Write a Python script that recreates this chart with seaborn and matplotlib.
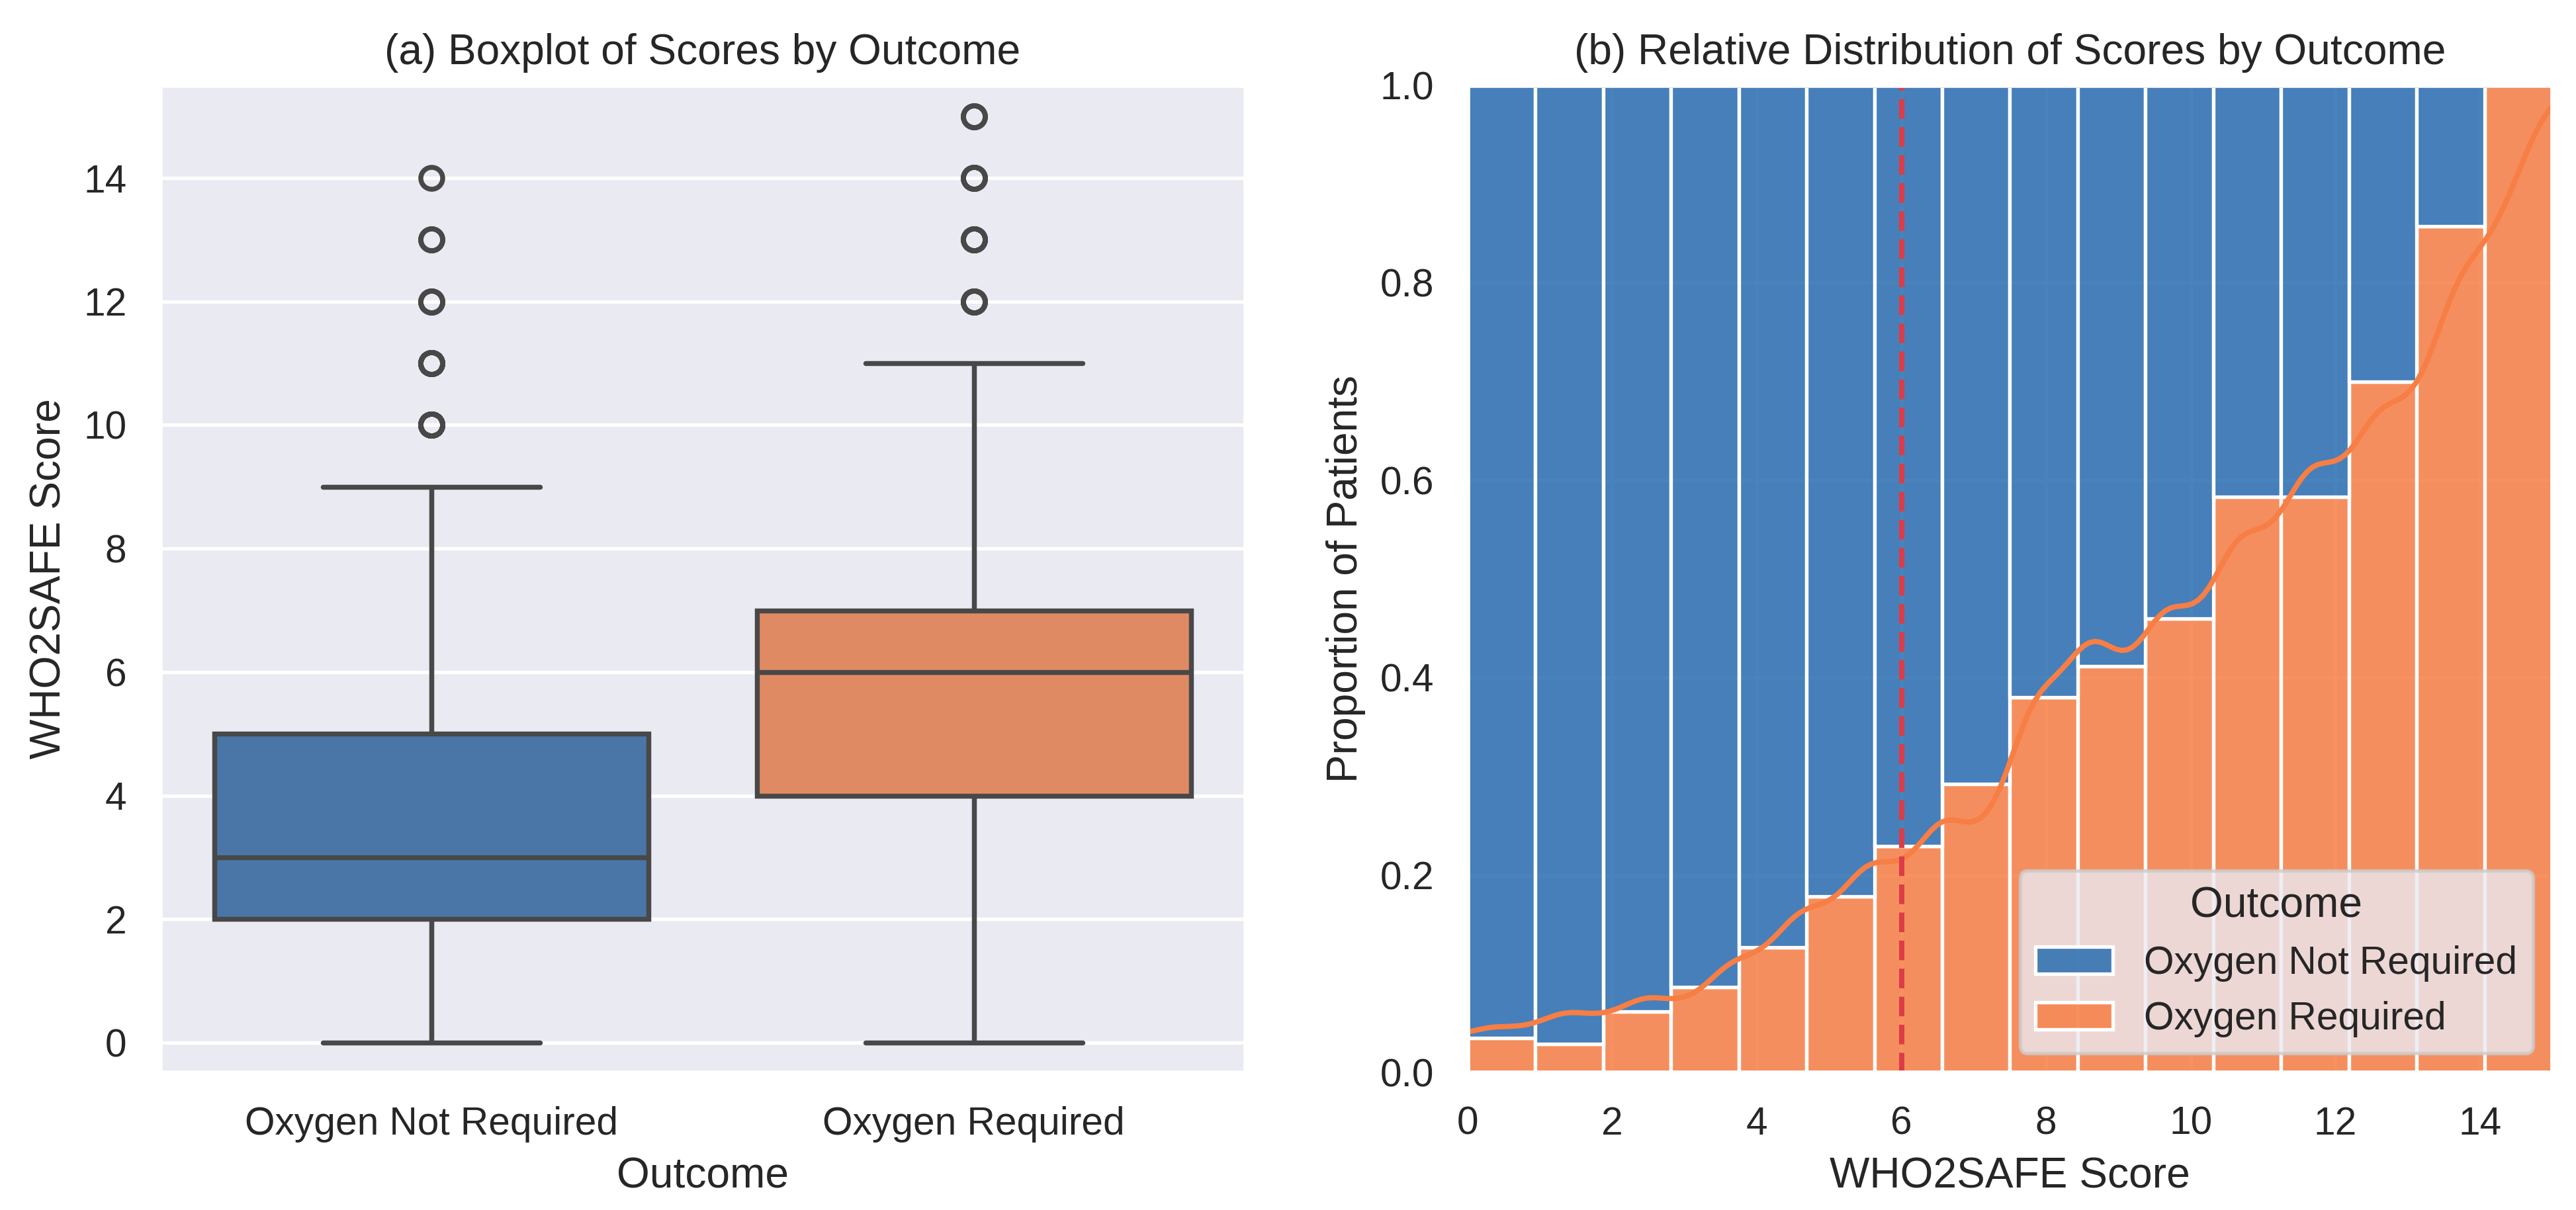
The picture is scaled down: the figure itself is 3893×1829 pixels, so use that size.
import matplotlib
matplotlib.use("Agg")
import matplotlib.pyplot as plt
import numpy as np
import pandas as pd
import seaborn as sns

# patients per WHO2SAFE score (0..15)
score_values = list(range(16))
not_required_counts = [110, 300, 700, 960, 620, 460, 400, 300, 80, 40, 20, 10, 5, 3, 1, 0]
required_counts = [4, 9, 46, 91, 90, 100, 119, 124, 49, 28, 17, 14, 7, 7, 6, 4]
outcomes = ["Oxygen Not Required", "Oxygen Required"]

box_colors = ["#4a76a7", "#e08a64"]
hist_colors = ["#296db0", "#f77e44"]
cutoff = 6


def build_frame():
    scores = np.concatenate([np.repeat(score_values, not_required_counts),
                             np.repeat(score_values, required_counts)])
    labels = [outcomes[0]] * sum(not_required_counts) + [outcomes[1]] * sum(required_counts)
    return pd.DataFrame({"WHO2SAFE Score": scores, "Outcome": labels})


sns.set_theme(style="darkgrid", context="notebook")
plt.rcParams["font.family"] = ["Liberation Sans", "DejaVu Sans"]

df = build_frame()

fig, (ax1, ax2) = plt.subplots(1, 2, figsize=(3893 / 384, 1829 / 384))
fig.subplots_adjust(left=0.0622, right=0.9908, bottom=0.1137, top=0.9295, wspace=0.205)

# (a) boxplot
sns.boxplot(data=df, x="Outcome", y="WHO2SAFE Score", hue="Outcome", order=outcomes,
            hue_order=outcomes, palette=box_colors, saturation=1, legend=False,
            linewidth=1.4, flierprops={"markersize": 6.2, "markeredgewidth": 1.4}, ax=ax1)
ax1.set_ylim(-0.48, 15.5)
ax1.set_title("(a) Boxplot of Scores by Outcome")
ax1.set_xlabel("Outcome")
ax1.set_ylabel("WHO2SAFE Score")

# (b) relative distribution
sns.histplot(data=df, x="WHO2SAFE Score", hue="Outcome", hue_order=outcomes, multiple="fill",
             bins=16, kde=True, kde_kws={"bw_adjust": 1.15}, palette=hist_colors,
             alpha=0.85, ax=ax2)
ax2.axvline(cutoff, color="#dc3c48", linestyle="--", linewidth=1.5)
ax2.set_xlim(0, 15)
ax2.set_ylim(0, 1)
ax2.set_xticks(range(0, 15, 2))
ax2.set_title("(b) Relative Distribution of Scores by Outcome")
ax2.set_xlabel("WHO2SAFE Score")
ax2.set_ylabel("Proportion of Patients")
sns.move_legend(ax2, "lower right")

plt.savefig("out.png", dpi=384)
plt.close()
